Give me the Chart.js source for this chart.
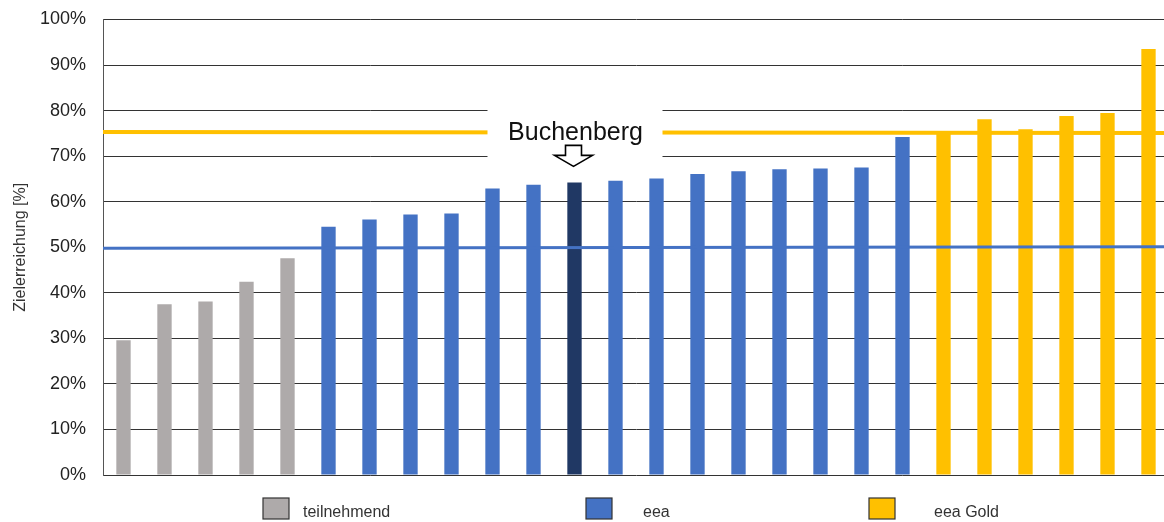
<!DOCTYPE html>
<html>
<head>
<meta charset="utf-8">
<script src="https://cdn.jsdelivr.net/npm/chart.js@4.4.1/dist/chart.umd.min.js"></script>
<style>
  html, body { margin: 0; padding: 0; background: #fff; overflow: hidden; }
  #wrap { width: 1170px; height: 522px; position: relative; }
</style>
</head>
<body>
<div id="wrap"><canvas id="grafico"></canvas></div>
<script>
// Werte (Zielerreichung in %)
const gruppen = ['teilnehmend', 'eea', 'eea Gold'];
const gruppenFarben = ['#AEAAAA', '#4472C4', '#FFC000'];
const teilnehmendWerte = [29.6, 37.5, 38.1, 42.4, 47.6];
const eeaWerte = [54.5, 56.1, 57.2, 57.4, 62.9, 63.7, 64.2, 64.6, 65.1, 66.1, 66.7, 67.1, 67.3, 67.5, 74.2];
const goldWerte = [75.4, 78.1, 75.9, 78.8, 79.5, 93.5];
const markiertIndex = 11;            // Buchenberg
const markiertName = 'Buchenberg';
const markiertFarbe = '#203864';
const eeaGrenze = [49.8, 50.1];      // blaue Linie, links -> rechts
const goldGrenze = [75.3, 75.1];     // gelbe Linie, links -> rechts
const yTicks = [0, 10, 20, 30, 40, 50, 60, 70, 80, 90, 100];

// Kategorien und Farben aus den Gruppen zusammenbauen
const werte = [...teilnehmendWerte, ...eeaWerte, ...goldWerte];
const labels = werte.map((v, i) => 'Gemeinde ' + (i + 1));
const farben = [
    ...teilnehmendWerte.map(() => gruppenFarben[0]),
    ...eeaWerte.map(() => gruppenFarben[1]),
    ...goldWerte.map(() => gruppenFarben[2])
];
farben[markiertIndex] = markiertFarbe;

// Beschriftung "Buchenberg" mit weissem Kasten und Pfeil
const markierungPlugin = {
    id: 'markierung',
    afterDatasetsDraw(chart) {
        const ctx = chart.ctx;
        const cx = chart.scales.x.getPixelForValue(markiertIndex);
        const yMid = chart.scales.y.getPixelForValue(75);
        ctx.save();
        ctx.fillStyle = '#fff';
        ctx.fillRect(cx - 87, yMid - 33, 175, 72);
        ctx.fillStyle = '#111';
        ctx.font = '25px "Liberation Sans", Arial, sans-serif';
        ctx.textAlign = 'center';
        ctx.textBaseline = 'alphabetic';
        ctx.fillText(markiertName, cx + 1, yMid + 7);
        // Pfeil nach unten
        const ax = cx - 1, top = yMid + 12;
        ctx.beginPath();
        ctx.moveTo(ax - 8, top);
        ctx.lineTo(ax + 8, top);
        ctx.lineTo(ax + 8, top + 10);
        ctx.lineTo(ax + 19, top + 10);
        ctx.lineTo(ax, top + 21);
        ctx.lineTo(ax - 19, top + 10);
        ctx.lineTo(ax - 8, top + 10);
        ctx.closePath();
        ctx.fillStyle = '#fff';
        ctx.fill();
        ctx.lineWidth = 1.6;
        ctx.strokeStyle = '#000';
        ctx.stroke();
        ctx.restore();
    }
};

// Legende unten, eigene Zeichnung
const legendePlugin = {
    id: 'legende',
    afterDraw(chart) {
        const ctx = chart.ctx;
        const boxX = [263, 586, 869];
        const textX = [303, 643, 934];
        ctx.save();
        ctx.font = '16px "Liberation Sans", Arial, sans-serif';
        ctx.textBaseline = 'middle';
        ctx.textAlign = 'left';
        gruppen.forEach((g, i) => {
            ctx.fillStyle = gruppenFarben[i];
            ctx.fillRect(boxX[i], 498, 26, 21);
            ctx.lineWidth = 1.2;
            ctx.strokeStyle = '#333';
            ctx.strokeRect(boxX[i], 498, 26, 21);
            ctx.fillStyle = '#333';
            ctx.fillText(g, textX[i], 513);
        });
        ctx.restore();
    }
};

new Chart(document.getElementById('grafico'), {
    data: {
        labels: labels,
        datasets: [
            {
                type: 'line',
                label: 'eea Grenze',
                xAxisID: 'x2',
                data: [{ x: 0, y: eeaGrenze[0] }, { x: 1, y: eeaGrenze[1] }],
                borderColor: '#4472C4',
                borderWidth: 3,
                pointRadius: 0,
                order: 0
            },
            {
                type: 'line',
                label: 'eea Gold Grenze',
                xAxisID: 'x2',
                data: [{ x: 0, y: goldGrenze[0] }, { x: 1, y: goldGrenze[1] }],
                borderColor: '#FFC000',
                borderWidth: 4,
                pointRadius: 0,
                order: 0
            },
            {
                type: 'bar',
                label: 'Zielerreichung',
                xAxisID: 'x',
                data: werte,
                backgroundColor: farben,
                categoryPercentage: 1,
                barPercentage: 0.35,
                grouped: false,
                order: 1
            }
        ]
    },
    options: {
        responsive: true,
        maintainAspectRatio: false,
        animation: false,
        layout: { padding: { top: 19.5, right: 1, bottom: 47, left: 0 } },
        plugins: {
            legend: { display: false },
            tooltip: { enabled: false }
        },
        scales: {
            x: {
                type: 'category',
                display: false,
                offset: true,
                grid: { display: false }
            },
            x2: {
                type: 'linear',
                display: false,
                min: 0,
                max: 1
            },
            y: {
                min: 0,
                max: 100,
                afterBuildTicks: axis => { axis.ticks = yTicks.map(v => ({ value: v })); },
                afterFit: axis => {
                    axis.width = 103;
                    axis.paddingTop = 0;
                    axis.paddingBottom = 0;
                },
                ticks: {
                    padding: 17,
                    color: '#222',
                    font: { family: '"Liberation Sans", Arial, sans-serif', size: 18 },
                    callback: v => v + '%'
                },
                grid: { color: '#333', lineWidth: 1, drawTicks: false },
                border: { color: '#555', width: 1 },
                title: {
                    display: true,
                    text: 'Zielerreichung [%]',
                    color: '#333',
                    font: { family: '"Liberation Sans", Arial, sans-serif', size: 16 },
                    padding: { top: 11, bottom: 0 }
                }
            }
        }
    },
    plugins: [markierungPlugin, legendePlugin]
});
</script>
</body>
</html>
